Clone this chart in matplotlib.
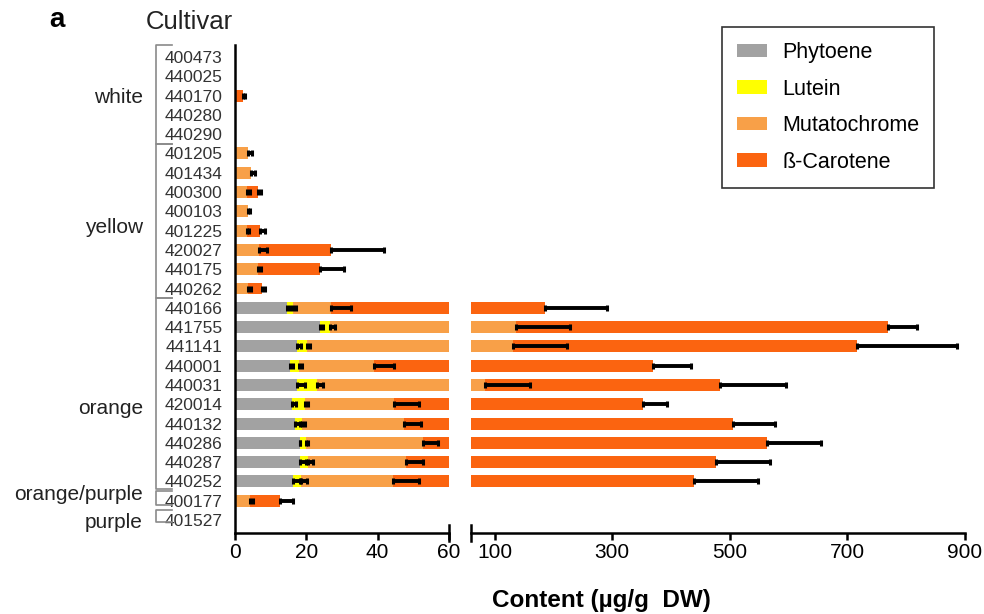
import numpy as np
import matplotlib.pyplot as plt
from matplotlib.transforms import blended_transform_factory

plt.rcParams['font.family'] = ['Liberation Sans', 'DejaVu Sans']

# carotenoid content per cultivar (segment sizes, ug/g DW) and errors
cultivars = ['400473', '440025', '440170', '440280', '440290',
             '401205', '401434', '400300', '400103', '401225',
             '420027', '440175', '440262',
             '440166', '441755', '441141', '440001', '440031',
             '420014', '440132', '440286', '440287', '440252',
             '400177', '401527']
phytoene = [0, 0, 0, 0, 0, 0, 0, 0, 0, 0, 0, 0, 0,
            14.6, 23.9, 17.4, 15.5, 17.4, 16.0, 16.9, 18.3, 18.3, 16.4, 0, 0]
phytoene_err = [0, 0, 0, 0, 0, 0, 0, 0, 0, 0, 0, 0, 0,
                0.8, 0.9, 1.0, 0.9, 2.3, 1.1, 1.4, 0, 1.5, 1.8, 0, 0]
lutein = [0, 0, 0, 0, 0, 0, 0, 0, 0, 0, 0, 0, 0,
          1.6, 2.6, 2.8, 2.4, 5.6, 3.5, 1.9, 1.7, 2.3, 2.1, 0, 0]
lutein_err = [0, 0, 0, 0, 0, 0, 0, 0, 0, 0, 0, 0, 0,
              0.8, 1.6, 0.9, 0.9, 1.6, 1.0, 0.9, 0.6, 1.4, 1.7, 0, 0]
mutato = [0, 0, 0, 0, 0, 3.7, 4.6, 3.5, 3.6, 3.3, 6.6, 6.5, 3.7,
          10.6, 110.5, 110.8, 21.1, 60.0, 25.1, 28.6, 32.6, 27.3, 25.7, 4.2, 0]
mutato_err = [0, 0, 0, 0, 0, 1.0, 1.0, 0.8, 0.7, 0.6, 2.4, 0.8, 0.7,
              5.6, 91, 92, 5.6, 77, 7.0, 4.7, 4.2, 4.7, 7.4, 0.8, 0]
carotene = [0, 0, 2.3, 0, 0, 0, 0, 3.0, 0, 3.7, 20.2, 17.4, 3.8,
            158.2, 632, 585, 330, 400, 307.4, 457.6, 510.4, 428.1, 394.8, 8.5, 0]
carotene_err = [0, 0, 0.6, 0, 0, 0, 0, 0.8, 0, 1.3, 15, 6.6, 1.0,
                107, 49, 170, 65, 112, 41, 72, 92, 92, 109, 3.7, 0]

names = ['Phytoene', 'Lutein', 'Mutatochrome', 'ß-Carotene']
colors = ['#a2a2a2', '#ffff00', '#f8a048', '#fb6410']
series = [phytoene, lutein, mutato, carotene]
errors = [phytoene_err, lutein_err, mutato_err, carotene_err]

groups = ['white', 'yellow', 'orange', 'orange/purple', 'purple']
group_rows = [(-0.6, 4.5), (4.5, 12.5), (12.5, 22.4), (22.5, 23.2), (23.5, 24.1)]
group_label_y = [2.1, 8.85, 18.2, 22.7, 24.1]

y = np.arange(len(cultivars))

fig = plt.figure(figsize=(9.84, 6.14), dpi=100)
bottom, top = 1 - 533 / 614, 1 - 45 / 614
ax1 = fig.add_axes([235 / 984, bottom, (449 - 235) / 984, top - bottom])
ax2 = fig.add_axes([471 / 984, bottom, (965 - 471) / 984, top - bottom])

for ax in (ax1, ax2):
    left = np.zeros(len(y))
    ends = []
    for vals, errs, c, n in zip(series, errors, colors, names):
        vals = np.array(vals, dtype=float)
        ax.barh(y, vals, left=left, height=0.62, color=c, label=n, zorder=2)
        left = left + vals
        ends.append((left.copy(), np.array(errs, dtype=float), vals > 0))
    for end, err, mask in ends:
        ax.errorbar(end[mask], y[mask], xerr=[np.zeros(mask.sum()), err[mask]],
                    fmt='none', ecolor='black', elinewidth=2.8, capsize=2.5,
                    capthick=2.2, zorder=3)
    ax.set_ylim(24.67, -0.62)
    for s in ('top', 'right'):
        ax.spines[s].set_visible(False)
    ax.spines['bottom'].set_linewidth(1.8)
    ax.tick_params(axis='x', labelsize=15, width=1.8, length=5, pad=2)

ax1.set_xlim(0, 60)
ax1.set_xticks([0, 20, 40, 60])
ax1.spines['left'].set_linewidth(1.8)
ax1.set_yticks(y)
ax1.set_yticklabels(cultivars, fontsize=12.5, color='#333333')
ax1.tick_params(axis='y', length=0, pad=9)

ax2.set_xlim(60, 900)
ax2.set_xticks([100, 300, 500, 700, 900])
ax2.spines['left'].set_visible(False)
ax2.set_yticks([])

# axis break caps
ax1.plot([1, 1], [-0.016, 0.016], transform=ax1.transAxes, color='black',
         lw=1.8, clip_on=False)
ax2.plot([0, 0], [-0.016, 0.016], transform=ax2.transAxes, color='black',
         lw=1.8, clip_on=False)

# group brackets
trans = blended_transform_factory(ax1.transAxes, ax1.transData)
for (r0, r1), g, gy in zip(group_rows, groups, group_label_y):
    ax1.plot([-0.294, -0.369, -0.369, -0.294], [r0, r0, r1, r1],
             transform=trans, color='#8a8a8a', lw=1.2, clip_on=False)
    ax1.text(-0.43, gy, g, transform=trans, ha='right', va='center',
             fontsize=15, color='#222222')

fig.text(57 / 984, 1 - 20 / 614, 'a', fontsize=20, fontweight='bold',
         ha='center', va='center')
fig.text(189 / 984, 1 - 22 / 614, 'Cultivar', fontsize=18.5,
         ha='center', va='center', color='#222222')
fig.text(601 / 984, 1 - 600 / 614, 'Content (\u00b5g/g  DW)', fontsize=17.5,
         fontweight='bold', ha='center', va='center')

handles, labels = ax1.get_legend_handles_labels()
leg = fig.legend(handles, labels, loc='upper left',
                 bbox_to_anchor=(722 / 984, 1 - 27 / 614), borderaxespad=0,
                 fontsize=15.5, frameon=True, fancybox=False,
                 edgecolor='black', handlelength=1.4, handleheight=0.6,
                 handletextpad=0.7, labelspacing=0.72, borderpad=0.7)
leg.get_frame().set_linewidth(1.2)

fig.savefig('out.png', dpi=100)
